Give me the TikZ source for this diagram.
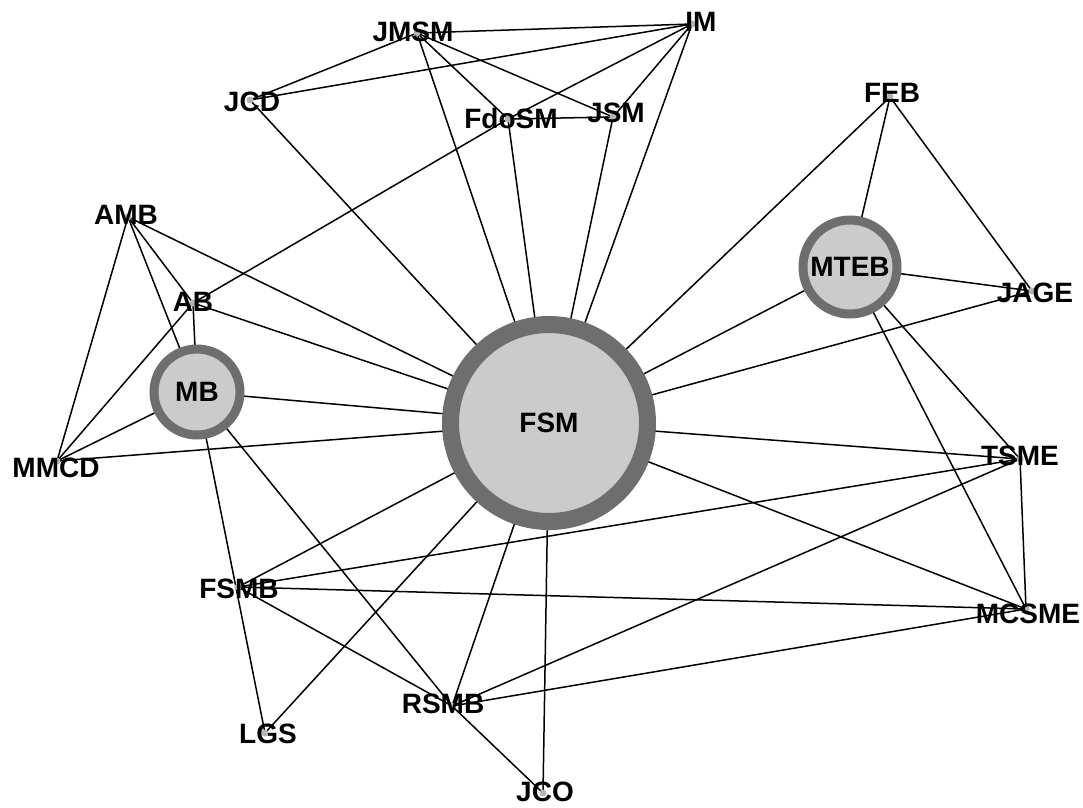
\documentclass[tikz,border=0pt]{standalone}
\usepackage{fontspec}
\setmainfont{Liberation Sans}
\pgfdeclarelayer{back}
\pgfdeclarelayer{edges}
\pgfsetlayers{back,edges,main}
\definecolor{ringgrey}{HTML}{6E6E6E}
\definecolor{discgrey}{HTML}{CBCBCB}
\definecolor{dotgrey}{HTML}{B4B4B4}
\begin{document}
\begin{tikzpicture}[x=1pt,y=-1pt,
  hub/.style={circle,draw=ringgrey,fill=discgrey,inner sep=0pt,
    font=\fontsize{28}{30}\selectfont\bfseries},
  pin/.style={circle,fill=dotgrey,inner sep=0pt,minimum size=7pt},
  tag/.style={font=\fontsize{28}{30}\selectfont\bfseries,inner sep=0pt},
  link/.style={line width=1.5pt,black}]
\begin{pgfonlayer}{back}
  \fill[white] (0,0) rectangle (1083,807);
\end{pgfonlayer}
\useasboundingbox (0,0) rectangle (1083,807);

% hub nodes
\node[hub,minimum size=197pt,line width=17pt] (FSM) at (549,423) {FSM};
\node[hub,minimum size=86pt,line width=9pt] (MB) at (197,392) {MB};
\node[hub,minimum size=94pt,line width=9pt] (MTEB) at (850,267) {MTEB};

% small nodes: a grey point with its name on top
\node[pin] (JMSM) at (417,33) {};
\node[pin] (IM) at (692,24) {};
\node[pin] (JCD) at (250,100) {};
\node[pin] (FdoSM) at (508,119) {};
\node[pin] (JSM) at (613,117) {};
\node[pin] (FEB) at (890,97) {};
\node[pin] (AMB) at (128,217) {};
\node[pin] (AB) at (193,303) {};
\node[pin] (JAGE) at (1032,291) {};
\node[pin] (MMCD) at (57,461) {};
\node[pin] (TSME) at (1020,459) {};
\node[pin] (MCSME) at (1026,609) {};
\node[pin] (FSMB) at (238,587) {};
\node[pin] (LGS) at (265,733) {};
\node[pin] (RSMB) at (452,706) {};
\node[pin] (JCO) at (543,793) {};

\node[tag] (JMSM-t) at (413,32) {JMSM};
\node[tag] (IM-t) at (701,22) {IM};
\node[tag] (JCD-t) at (252,102) {JCD};
\node[tag] (FdoSM-t) at (511,118) {FdoSM};
\node[tag] (JSM-t) at (616,113) {JSM};
\node[tag] (FEB-t) at (892,93) {FEB};
\node[tag] (AMB-t) at (126,215) {AMB};
\node[tag] (AB-t) at (193,302) {AB};
\node[tag] (JAGE-t) at (1035,293) {JAGE};
\node[tag] (MMCD-t) at (56,468) {MMCD};
\node[tag] (TSME-t) at (1020,456) {TSME};
\node[tag] (MCSME-t) at (1028,614) {MCSME};
\node[tag] (FSMB-t) at (239,589) {FSMB};
\node[tag] (LGS-t) at (268,734) {LGS};
\node[tag] (RSMB-t) at (443,704) {RSMB};
\node[tag] (JCO-t) at (545,792) {JCO};

% connectors, drawn beneath the nodes
\begin{pgfonlayer}{edges}
  \foreach \t in {JMSM,IM,JCD,FdoSM,JSM,FEB,MTEB,JAGE,TSME,MCSME,
                  FSMB,RSMB,JCO,LGS,MB,MMCD,AB,AMB}
    \draw[link] (FSM.center) -- (\t.center);
  \foreach \a/\b in {JMSM/IM, JMSM/JCD, JMSM/FdoSM, JMSM/JSM,
                     IM/JCD, IM/FdoSM, IM/JSM,
                     FdoSM/JSM, FdoSM/AB,
                     FEB/MTEB, FEB/JAGE,
                     MTEB/JAGE, MTEB/TSME, MTEB/MCSME,
                     TSME/MCSME, TSME/FSMB, TSME/RSMB,
                     MCSME/FSMB, MCSME/RSMB,
                     FSMB/RSMB,
                     MB/AB, MB/AMB, MB/MMCD, MB/RSMB, MB/LGS,
                     AMB/MMCD, AMB/AB, AB/MMCD,
                     RSMB/JCO}
    \draw[link] (\a.center) -- (\b.center);
\end{pgfonlayer}
\end{tikzpicture}
\end{document}
